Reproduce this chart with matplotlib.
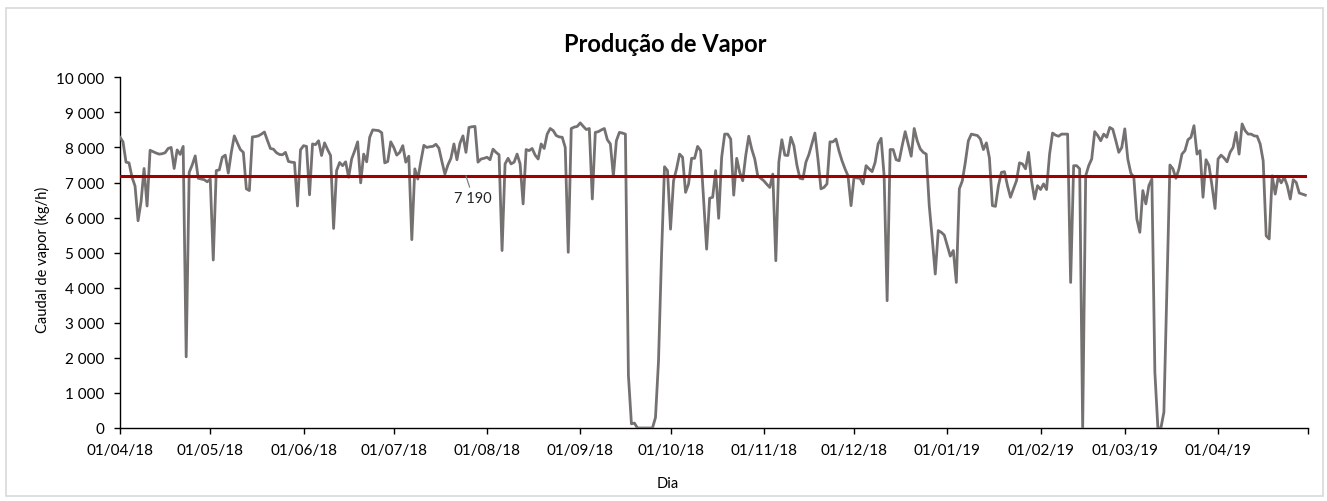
import numpy as np
import pandas as pd
import matplotlib
matplotlib.use("Agg")
import matplotlib.pyplot as plt
import matplotlib.dates as mdates
from matplotlib.patches import Rectangle
from matplotlib.ticker import FuncFormatter, MultipleLocator

plt.rcParams['font.family'] = ['Lato', 'DejaVu Sans']

# ---------------- data ----------------
start_date = "2018-04-01"
end_date = "2019-04-30"

steam_flow = [
    8290, 8160, 7580, 7560, 7150, 6900, 5910, 6450, 7400, 6330,
    7920, 7880, 7840, 7810, 7820, 7850, 7970, 8000, 7400, 7930,
    7800, 8030, 2030, 7290, 7500, 7760, 7120, 7100, 7080, 7020,
    7100, 4790, 7340, 7360, 7720, 7780, 7270, 7860, 8330, 8130,
    7940, 7860, 6820, 6770, 8300, 8310, 8330, 8380, 8440, 8200,
    7970, 7950, 7850, 7800, 7790, 7860, 7600, 7580, 7570, 6330,
    7930, 8050, 8030, 6650, 8100, 8080, 8190, 7770, 8130, 7940,
    7770, 5690, 7340, 7570, 7480, 7590, 7150, 7670, 7900, 8160,
    6990, 7810, 7590, 8290, 8500, 8490, 8480, 8420, 7560, 7600,
    8160, 8000, 7780, 7860, 8050, 7580, 7750, 5370, 7390, 7100,
    7600, 8060, 8000, 8020, 8030, 8090, 7980, 7600, 7240, 7500,
    7690, 8100, 7650, 8120, 8330, 7860, 8570, 8590, 8600, 7580,
    7670, 7690, 7720, 7650, 7950, 7860, 7790, 5060, 7530, 7690,
    7530, 7580, 7810, 7530, 6390, 7940, 7910, 7970, 7780, 7670,
    8100, 7970, 8380, 8540, 8480, 8340, 8300, 8290, 8000, 5010,
    8540, 8580, 8600, 8700, 8600, 8510, 8540, 6530, 8430, 8450,
    8500, 8540, 8220, 8100, 7180, 8190, 8430, 8410, 8380, 1500,
    120, 140, 0, 0, 0, 0, 0, 0, 300, 1900,
    4900, 7450, 7340, 5670, 7050, 7390, 7810, 7720, 6720, 6960,
    7690, 7690, 8030, 7910, 6500, 5100, 6550, 6580, 7340, 5980,
    7720, 8380, 8380, 8240, 6640, 7690, 7290, 7050, 7770, 8320,
    7950, 7670, 7190, 7120, 7050, 6950, 6860, 7240, 4770, 7580,
    8220, 7780, 7770, 8290, 8050, 7500, 7120, 7100, 7580, 7800,
    8100, 8410, 7670, 6820, 6860, 6960, 8160, 8160, 8240, 7900,
    7620, 7390, 7190, 6340, 7150, 7130, 7120, 6960, 7480, 7390,
    7310, 7570, 8100, 8260, 7190, 3630, 7940, 7940, 7650, 7620,
    8050, 8450, 8100, 7750, 8540, 8190, 7960, 7860, 7810, 6340,
    5400, 4390, 5630, 5580, 5500, 5200, 4900, 5060, 4150, 6820,
    7050, 7580, 8190, 8380, 8360, 8340, 8240, 7940, 8130, 7700,
    6340, 6320, 6910, 7290, 7310, 6910, 6580, 6820, 7050, 7560,
    7530, 7390, 7860, 7050, 6530, 6910, 6800, 6960, 6800, 7810,
    8410, 8350, 8320, 8380, 8380, 8380, 4150, 7480, 7480, 7390,
    0, 7190, 7480, 7670, 8450, 8340, 8190, 8380, 8290, 8570,
    8520, 8200, 7860, 8000, 8530, 7670, 7270, 7150, 5960, 5580,
    6770, 6390, 6910, 7100, 1590, 0, 0, 450, 4000, 7500,
    7390, 7120, 7390, 7810, 7910, 8220, 8290, 8620, 7810, 7910,
    6580, 7650, 7480, 6900, 6260, 7670, 7780, 7700, 7590, 7860,
    8000, 8430, 7810, 8670, 8480, 8380, 8380, 8330, 8320, 8100,
    7620, 5480, 5390, 7190, 6670, 7150, 6990, 7150, 6910, 6530,
    7080, 7000, 6700, 6670, 6640,
]
average_value = 7190
average_label = "7 190"
label_date = "2018-07-25"

tick_labels = ["01/04/18", "01/05/18", "01/06/18", "01/07/18", "01/08/18",
               "01/09/18", "01/10/18", "01/11/18", "01/12/18", "01/01/19",
               "01/02/19", "01/03/19", "01/04/19"]
axis_end = "2019-05-01"

title = "Produção de Vapor"
xlabel = "Dia"
ylabel = "Caudal de vapor (kg/h)"

# ---------------- figure ----------------
dates = pd.date_range(start_date, end_date, freq="D")
values = np.array(steam_flow[:len(dates)], dtype=float)

W, H = 1327, 502
fig = plt.figure(figsize=(W / 100, H / 100), dpi=100)
fig.patch.set_facecolor("white")

ax = fig.add_axes([120 / W, 73 / H, (1308.3 - 120) / W, (429 - 78.3) / H])

line_gray = "#767171"
red = "#A00000"

ax.plot(dates, values, color=line_gray, lw=2.0, solid_joinstyle="round", zorder=3)
ax.plot([dates[0], dates[-1]], [average_value, average_value], color=red, lw=2.2, zorder=4)

lx = mdates.date2num(pd.Timestamp(label_date))
ax.annotate(average_label, xy=(lx, average_value),
            xytext=(lx + 2.4, 6550), ha="center", va="center",
            fontsize=10.5, color="#262626",
            arrowprops=dict(arrowstyle="-", color="#7f7f7f", lw=0.9,
                            shrinkA=1, shrinkB=0), zorder=5)

ax.set_ylim(0, 10000)
ax.set_xlim(pd.Timestamp(start_date), pd.Timestamp(axis_end))
ax.yaxis.set_major_locator(MultipleLocator(1000))
ax.yaxis.set_major_formatter(FuncFormatter(lambda v, p: f"{int(round(v)):,}".replace(",", " ")))

tick_dates = [pd.to_datetime(t, format="%d/%m/%y") for t in tick_labels] + [pd.Timestamp(axis_end)]
ax.set_xticks(tick_dates)
ax.set_xticklabels(tick_labels + [""])

for s in ["top", "right"]:
    ax.spines[s].set_visible(False)
for s in ["left", "bottom"]:
    ax.spines[s].set_color("#000000")
    ax.spines[s].set_linewidth(1.0)

ax.tick_params(axis="both", direction="out", length=4.5, width=1.0, color="#000000",
               labelsize=11, labelcolor="#000000")
ax.tick_params(axis="y", pad=7)
ax.tick_params(axis="x", pad=6)

fig.text(0.501, 1 - 44 / H, title, ha="center", va="center",
         fontsize=17, fontweight="bold", color="#000000")
fig.text(0.503, 1 - 484 / H, xlabel, ha="center", va="center", fontsize=10.5, color="#000000")
fig.text(42 / W, 1 - 260 / H, ylabel, ha="center", va="center", rotation=90,
         fontsize=10.5, color="#000000")

fig.add_artist(Rectangle((6 / W, 1 - 497 / H), (1323 - 6) / W, (497 - 9) / H,
                         transform=fig.transFigure, fill=False,
                         edgecolor="#D9D9D9", lw=1.2))

fig.savefig("out.png", dpi=100, facecolor="white")
